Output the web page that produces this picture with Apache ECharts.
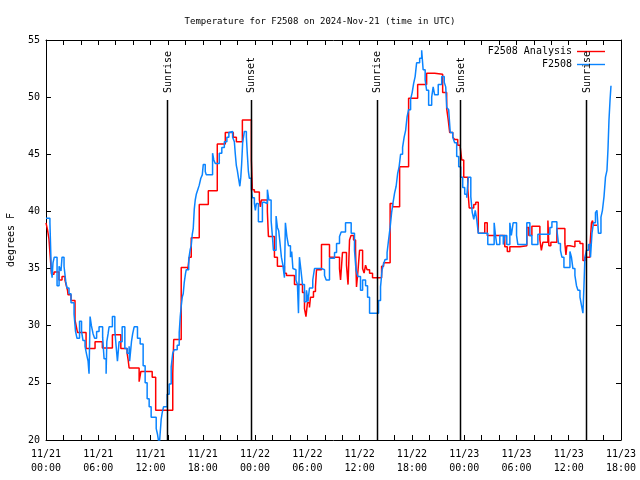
<!DOCTYPE html>
<html>
<head>
<meta charset="utf-8">
<script src="https://cdn.jsdelivr.net/npm/echarts@6/dist/echarts.min.js"></script>
<style>html,body{margin:0;padding:0;background:#fff}#c{width:640px;height:480px}</style>
</head>
<body>
<div id="c"></div>
<script>
// hours since 2024-11-21 00:00 UTC
const obsHours = [0,0.45,0.6,0.7,0.8,0.95,1.27,1.5,1.72,1.84,2.07,2.26,2.41,2.64,2.87,3.22,3.39,3.56,3.85,4.08,4.25,4.48,4.66,4.83,4.94,5.06,5.21,5.4,5.58,5.81,6.09,6.5,6.67,6.9,6.98,7.13,7.24,7.62,7.9,8.05,8.2,8.39,8.74,9.05,9.31,9.54,9.6,9.81,9.95,10.12,10.5,10.81,11.15,11.38,11.61,11.84,12.07,12.65,12.8,13.0,13.22,13.34,13.49,13.91,14.14,14.37,14.55,14.72,15.06,15.29,15.41,15.52,15.64,15.75,15.87,16.02,16.1,16.38,16.56,16.67,16.79,16.9,17.02,17.13,17.25,17.42,17.59,17.77,17.94,18.05,18.28,18.4,19.12,19.26,19.43,19.89,20.18,20.47,20.76,20.99,21.16,21.42,21.62,21.73,21.85,21.96,22.08,22.25,22.36,22.46,22.57,22.77,23.0,23.11,23.23,23.34,23.57,23.69,23.92,24.03,24.15,24.38,24.84,25.07,25.41,25.58,25.84,25.99,26.1,26.41,26.56,26.71,26.85,27.02,27.19,27.37,27.48,27.65,27.83,28.06,28.2,28.34,28.52,28.69,28.86,28.98,29.09,29.26,29.44,29.67,29.9,30.07,30.24,30.62,30.82,31.62,31.97,32.16,32.54,33.12,33.35,33.69,33.88,34.38,35.03,35.41,35.58,35.8,36.1,36.34,36.68,36.91,37.14,38.17,38.4,38.58,38.75,38.92,39.15,39.32,39.5,39.67,39.84,40.01,40.19,40.36,40.53,40.7,40.93,41.11,41.28,41.45,41.62,41.85,42.03,42.2,42.37,42.54,42.89,43.12,43.29,43.52,43.69,43.92,44.27,44.44,44.61,45.02,45.42,45.71,45.88,46.0,46.22,46.4,46.69,46.91,47.14,47.37,47.6,47.83,48.06,48.29,48.47,48.76,48.93,49.1,49.27,49.44,49.62,50.71,51.44,51.58,51.74,52.09,52.49,52.66,52.89,53.24,53.41,53.62,54.01,54.16,55.19,55.54,55.77,56.46,57.84,58.07,58.64,58.82,59.05,59.22,59.45,60.14,60.31,60.48,60.71,60.89,61.06,61.29,61.46,61.63,61.75,61.86,62.04,62.27,62.5,62.67,62.84,63.07,63.24,63.41,63.7,63.87,64.05,64.22,64.39,64.51,64.62,64.74,64.85];
const obsTemps = [39.4,39.0,35.0,34.2,35.5,36.0,33.5,35.2,34.8,36.0,35.2,33.9,33.3,32.8,32.0,31.0,29.5,28.9,30.4,29.5,28.7,28.2,27.5,26.9,25.8,30.8,30.0,29.3,28.9,29.5,29.9,29.0,27.1,25.8,28.6,29.3,29.9,30.8,29.6,28.2,26.9,28.6,29.9,28.0,27.6,28.2,26.9,28.6,29.3,29.9,28.9,28.4,26.5,25.0,23.6,22.9,22.0,21.0,20.5,19.5,21.8,22.4,22.9,24.0,24.9,26.4,27.6,27.9,28.3,29.4,30.8,31.7,32.5,32.8,33.8,34.6,34.9,35.8,36.7,37.0,38.0,38.5,40.2,41.0,41.5,41.9,42.3,42.9,43.2,44.1,43.5,43.2,45.1,44.5,44.2,45.1,45.6,46.1,46.5,46.9,47.0,46.5,46.1,45.0,44.0,43.6,43.0,42.2,43.0,44.2,46.0,47.0,46.5,45.0,43.5,42.9,42.0,41.2,40.7,40.1,40.7,39.1,40.8,40.7,41.9,41.0,39.2,37.8,36.6,39.6,38.6,38.3,37.3,36.0,35.3,34.2,39.0,37.8,37.0,36.0,36.5,35.0,34.9,34.0,33.6,31.1,36.0,34.9,33.6,32.1,33.1,32.1,33.3,34.0,35.0,34.9,34.4,34.0,35.9,36.4,37.2,37.8,38.2,39.0,38.1,36.6,34.9,34.3,33.1,34.0,33.5,32.5,31.1,32.2,33.4,34.9,35.4,35.8,36.4,37.5,38.6,39.9,40.8,41.6,42.2,43.3,43.9,45.0,45.6,46.5,47.1,48.3,48.9,49.8,50.4,51.2,51.8,53.0,53.4,54.1,52.4,51.5,50.6,49.3,50.0,50.9,50.2,51.1,51.8,51.3,50.9,49.1,48.9,46.9,46.5,46.0,44.8,43.9,43.0,42.1,41.5,41.2,43.0,41.3,39.9,39.3,40.1,39.3,38.1,37.1,39.0,38.0,37.1,37.9,37.1,37.9,37.1,39.0,37.9,39.0,37.9,37.1,39.0,37.9,37.1,38.0,38.6,39.1,38.4,37.2,36.6,36.0,35.1,36.5,36.0,35.0,34.4,33.5,33.1,32.5,31.8,31.1,33.5,36.0,36.6,37.1,36.0,38.1,39.0,39.9,40.1,38.1,39.5,40.1,41.3,43.0,43.6,45.5,48.0,49.7,51.0];
const anaHours = [0,0.17,0.34,0.54,0.63,0.92,1.49,1.84,2.18,2.3,2.47,2.53,2.87,3.33,3.51,3.62,4.6,5.63,6.47,7.62,8.59,9.31,9.43,9.54,10.69,10.89,12.19,12.59,14.55,14.66,15.52,16.27,16.44,16.67,17.59,18.63,19.66,20.58,21.5,21.85,22.54,23.57,23.69,23.92,24.49,24.61,24.72,25.41,25.53,26.22,26.56,27.37,27.6,28.52,29.44,29.67,29.84,30.01,30.24,30.36,30.7,30.93,31.05,31.62,32.54,33.69,33.81,34.03,34.49,34.67,34.84,35.01,35.3,35.53,35.64,35.82,35.99,36.34,36.51,36.68,36.85,37.14,37.48,38.52,38.75,39.5,39.78,40.59,41.62,42.66,43.69,44.61,45.53,45.99,46.17,46.34,46.69,46.91,47.26,47.55,47.72,47.95,48.41,48.58,49.1,49.33,49.62,50.36,50.65,52.66,52.95,53.24,54.39,55.19,55.42,55.77,56.69,56.86,57.03,57.61,57.72,57.95,58.64,59.56,59.68,59.79,60.14,60.71,61.29,61.63,61.86,62.44,62.61,62.73,62.84,63.24];
const anaTemps = [39.0,38.4,37.6,35.5,34.5,34.7,34.0,34.3,34.0,33.6,33.1,32.7,32.2,30.5,29.8,29.4,28.0,28.6,28.05,29.2,28.0,27.6,27.0,26.3,25.1,26.0,25.5,22.6,25.8,28.8,35.1,34.9,36.0,37.7,40.6,41.8,45.9,46.9,46.5,46.1,48.0,44.5,41.9,41.7,41.0,40.4,41.0,40.0,37.8,36.0,35.2,34.6,34.4,33.6,32.9,31.5,30.8,32.0,31.6,32.5,33.0,33.4,34.9,37.1,36.0,35.0,34.0,36.4,35.3,33.6,37.5,37.9,37.5,36.6,33.4,34.9,36.6,35.0,34.6,35.3,34.9,34.6,34.2,35.2,35.5,40.7,40.4,43.9,49.9,51.1,52.1,52.0,50.4,49.0,48.0,46.9,46.5,46.3,45.8,45.6,44.5,43.0,42.0,40.3,40.6,40.8,38.1,39.0,37.9,36.9,36.5,36.9,37.0,38.6,37.9,38.7,37.5,36.6,37.3,39.2,37.0,37.3,38.5,37.2,36.2,37.0,36.9,37.4,37.2,35.7,36.0,37.0,39.0,39.2,38.8,38.8];
const sunHours = [13.88, 23.48, 37.98, 47.52, 62.0];
const sunLabels = ['Sunrise', 'Sunset', 'Sunrise', 'Sunset', 'Sunrise'];
const dayLabels = ['11/21', '11/22', '11/23'];
const seriesNames = ['F2508 Analysis', 'F2508'];
const titleText = 'Temperature for F2508 on 2024-Nov-21 (time in UTC)';
const yName = 'degrees F';

const FONT = 'DejaVu Sans Mono';
const chart = echarts.init(document.getElementById('c'), null, {renderer: 'canvas'});
function pad(n){return (n<10?'0':'')+n;}
function xLabel(v){
  const d = Math.floor(v/24+1e-6);
  const h = Math.round(v - d*24);
  return dayLabels[d] + '\n' + pad(h) + ':00';
}
const tickCommon = {show:true, inside:true, length:5, lineStyle:{color:'#000', width:1}};
const minorCommon = {show:true, splitNumber:3, length:5, lineStyle:{color:'#000', width:1}};
chart.setOption({
  animation:false,
  backgroundColor:'#fff',
  title:{text:titleText, left:'center', top:12, textStyle:{fontFamily:FONT, fontSize:9, fontWeight:'normal', color:'#000'}},
  legend:{
    orient:'vertical', right:30, top:40, align:'right', itemGap:0, itemWidth:28, itemHeight:10,
    textStyle:{fontFamily:FONT, fontSize:10, color:'#000', lineHeight:13},
    data:[{name:seriesNames[0], icon:'path://M0,4.3L28,4.3L28,5.7L0,5.7Z'},{name:seriesNames[1], icon:'path://M0,4.3L28,4.3L28,5.7L0,5.7Z'}]
  },
  grid:{left:46, right:19, top:40, bottom:40, containLabel:false, outerBoundsMode:'none'},
  xAxis:[
    {type:'value', min:0, max:66, interval:6, position:'bottom',
     axisLine:{show:true, onZero:false, lineStyle:{color:'#000', width:1}},
     axisTick:tickCommon, minorTick:minorCommon, splitLine:{show:false},
     axisLabel:{formatter:xLabel, fontFamily:FONT, fontSize:10, color:'#000', margin:7, lineHeight:14, showMinLabel:true, showMaxLabel:true}},
    {type:'value', min:0, max:66, interval:6, position:'top',
     axisLine:{show:true, onZero:false, lineStyle:{color:'#000', width:1}},
     axisTick:tickCommon, minorTick:minorCommon, splitLine:{show:false}, axisLabel:{show:false}}
  ],
  yAxis:[
    {type:'value', min:20, max:55, interval:5, position:'left',
     name:yName, nameLocation:'middle', nameGap:30, nameRotate:90,
     nameTextStyle:{fontFamily:FONT, fontSize:10, color:'#000'},
     axisLine:{show:true, onZero:false, lineStyle:{color:'#000', width:1}},
     axisTick:tickCommon, splitLine:{show:false},
     axisLabel:{fontFamily:FONT, fontSize:10, color:'#000', margin:6}},
    {type:'value', min:20, max:55, interval:5, position:'right',
     axisLine:{show:true, onZero:false, lineStyle:{color:'#000', width:1}},
     axisTick:tickCommon, splitLine:{show:false}, axisLabel:{show:false}}
  ],
  series:[
    {name:seriesNames[0], type:'line', step:'end', showSymbol:false, symbol:'none', clip:true,
     lineStyle:{color:'#ff0000', width:1.5}, itemStyle:{color:'#ff0000'}, z:2,
     data:anaHours.map((h,i)=>[h, anaTemps[i]])},
    {name:seriesNames[1], type:'line', step:'end', showSymbol:false, symbol:'none', clip:true,
     lineStyle:{color:'#0a84ff', width:1.5}, itemStyle:{color:'#0a84ff'}, z:3,
     data:obsHours.map((h,i)=>[h, obsTemps[i]])},
    {type:'custom', silent:true, z:4, data:sunHours.map(h=>[h, 49.75]),
     renderItem:function(params, api){
       const t = api.value(0);
       const top = api.coord([t, api.value(1)]);
       const bot = api.coord([t, 20]);
       return {type:'group', children:[
         {type:'line', shape:{x1:Math.round(top[0])+0.5, y1:top[1], x2:Math.round(bot[0])+0.5, y2:bot[1]}, style:{stroke:'#000', lineWidth:1.5}},
         {type:'text', x:top[0]+1, y:top[1]-7, rotation:Math.PI/2,
          style:{text:sunLabels[params.dataIndex], font:'10px "DejaVu Sans Mono"', fill:'#000', align:'left', verticalAlign:'middle'}}
       ]};
     }}
  ]
});
</script>
</body>
</html>
